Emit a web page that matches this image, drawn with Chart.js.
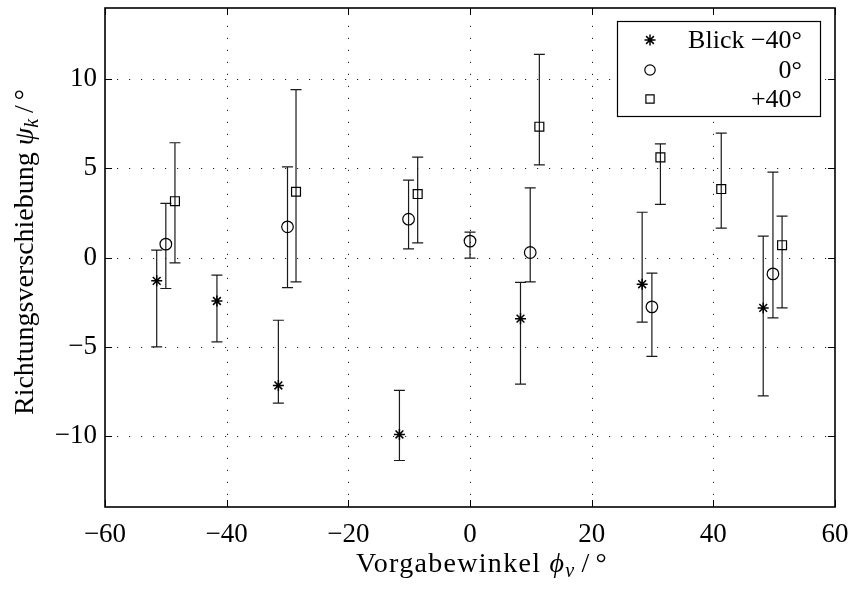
<!DOCTYPE html>
<html><head><meta charset="utf-8">
<script src="https://cdn.jsdelivr.net/npm/chart.js@4"></script>
<style>html,body{margin:0;padding:0;background:#fff;} canvas{display:block;}</style>
</head><body>
<canvas id="c" width="848" height="593"></canvas>
<script>
// ---- data ----
const seriesLabels = ['Blick \u221240\u00b0', '0\u00b0', '+40\u00b0'];
const starX  = [-51.5, -41.6, -31.5, -11.6, 8.3, 28.3, 48.2];
const starY  = [-1.31, -2.44, -7.18, -9.93, -3.43, -1.50, -2.83];
const starLo = [-5.02, -4.74, -8.17, -11.39, -7.10, -3.63, -7.77];
const starHi = [0.41, -0.99, -3.52, -7.46, -1.40, 2.54, 1.20];
const circX  = [-50.0, -30.0, -10.1, 0.0, 9.9, 29.9, 49.8];
const circY  = [0.75, 1.72, 2.15, 0.92, 0.28, -2.77, -0.92];
const circLo = [-1.74, -1.69, 0.48, -0.04, -1.37, -5.55, -3.39];
const circHi = [3.04, 5.09, 4.34, 1.42, 3.91, -0.88, 4.79];
const sqX    = [-48.5, -28.6, -8.6, 11.4, 31.3, 41.3, 51.3];
const sqY    = [3.16, 3.69, 3.56, 7.34, 5.62, 3.84, 0.69];
const sqLo   = [-0.30, -1.37, 0.82, 5.20, 2.98, 1.65, -2.83];
const sqHi   = [6.44, 9.42, 5.63, 11.40, 6.38, 6.98, 2.32];
const xTicks = [-60, -40, -20, 0, 20, 40, 60];
const yTicks = [-10, -5, 0, 5, 10];
const xRange = [-60, 60];
const yRange = [-14, 14];

const SERIF = '"Liberation Serif", "DejaVu Serif", serif';
const build = (xs, ys, lo, hi) => xs.map((v, i) => ({x: v, y: ys[i], lo: lo[i], hi: hi[i]}));
const fmt = v => String(v).replace('-', '\u2212');

const gridPlugin = {
  id: 'gridPlugin',
  beforeDatasetsDraw(chart) {
    const {ctx, chartArea: a, scales: {x, y}} = chart;
    ctx.save();
    ctx.strokeStyle = '#222';
    ctx.lineWidth = 1;
    ctx.setLineDash([1.2, 10.8]);
    xTicks.forEach(v => {
      const px = Math.round(x.getPixelForValue(v)) + 0.5;
      if (px < a.left + 2 || px > a.right - 2) return;
      ctx.beginPath(); ctx.moveTo(px, a.bottom); ctx.lineTo(px, a.top); ctx.stroke();
    });
    yTicks.forEach(v => {
      const py = Math.round(y.getPixelForValue(v)) + 0.5;
      if (py < a.top + 2 || py > a.bottom - 2) return;
      ctx.beginPath(); ctx.moveTo(a.left, py); ctx.lineTo(a.right, py); ctx.stroke();
    });
    ctx.restore();
  }
};

const errorBarPlugin = {
  id: 'errorBarPlugin',
  beforeDatasetsDraw(chart) {
    const {ctx, scales: {x, y}} = chart;
    ctx.save();
    ctx.strokeStyle = '#1a1a1a';
    ctx.lineWidth = 1.2;
    chart.data.datasets.forEach(ds => ds.data.forEach(p => {
      const px = x.getPixelForValue(p.x);
      const pl = y.getPixelForValue(p.lo);
      const ph = y.getPixelForValue(p.hi);
      ctx.beginPath();
      ctx.moveTo(px, pl); ctx.lineTo(px, ph);
      ctx.moveTo(px - 5.5, pl); ctx.lineTo(px + 5.5, pl);
      ctx.moveTo(px - 5.5, ph); ctx.lineTo(px + 5.5, ph);
      ctx.stroke();
    }));
    ctx.restore();
  }
};

const framePlugin = {
  id: 'framePlugin',
  afterDatasetsDraw(chart) {
    const {ctx, chartArea: a, scales: {x, y}} = chart;
    ctx.save();
    ctx.strokeStyle = '#000';
    ctx.lineWidth = 1;
    const tl = 7;
    ctx.beginPath();
    xTicks.forEach(v => {
      const px = Math.round(x.getPixelForValue(v)) + 0.5;
      ctx.moveTo(px, a.bottom); ctx.lineTo(px, a.bottom - tl);
      ctx.moveTo(px, a.top); ctx.lineTo(px, a.top + tl);
    });
    yTicks.forEach(v => {
      const py = Math.round(y.getPixelForValue(v)) + 0.5;
      ctx.moveTo(a.left, py); ctx.lineTo(a.left + tl, py);
      ctx.moveTo(a.right, py); ctx.lineTo(a.right - tl, py);
    });
    ctx.stroke();
    ctx.lineWidth = 1.6;
    ctx.strokeRect(a.left, a.top, a.right - a.left, a.bottom - a.top);
    ctx.restore();
  }
};

function drawPieces(ctx, pieces, startX, baseY) {
  let cx = startX;
  pieces.forEach(p => {
    ctx.font = p.font;
    ctx.fillText(p.t, cx, baseY + (p.dy || 0));
    cx += ctx.measureText(p.t).width + (p.sp || 0);
  });
  return cx;
}
function piecesWidth(ctx, pieces) {
  let w = 0;
  pieces.forEach(p => { ctx.font = p.font; w += ctx.measureText(p.t).width + (p.sp || 0); });
  return w;
}

const titlePlugin = {
  id: 'titlePlugin',
  afterDraw(chart) {
    const {ctx} = chart;
    ctx.save();
    ctx.fillStyle = '#000';
    ctx.textBaseline = 'alphabetic';
    ctx.textAlign = 'left';
    const fn = '28px ' + SERIF, fi = 'italic 28px ' + SERIF, fs = 'italic 20px ' + SERIF;
    const yPieces = [
      {t: 'Richtungsverschiebung ', font: fn},
      {t: '\u03c8', font: fi},
      {t: 'k', font: fs, dy: 5, sp: 6},
      {t: '/', font: fn, sp: 5},
      {t: '\u00b0', font: fn}
    ];
    ctx.save();
    const yw = piecesWidth(ctx, yPieces);
    ctx.translate(33, 252);
    ctx.rotate(-Math.PI / 2);
    drawPieces(ctx, yPieces, -yw / 2, 0);
    ctx.restore();

    if ('letterSpacing' in ctx) ctx.letterSpacing = '1.3px';
    const xPieces = [
      {t: 'Vorgabewinkel ', font: fn},
      {t: '\u03d5', font: fi},
      {t: 'v', font: fs, dy: 5, sp: 6},
      {t: '/', font: fn, sp: 5},
      {t: '\u00b0', font: fn}
    ];
    const xw = piecesWidth(ctx, xPieces);
    drawPieces(ctx, xPieces, 482 - xw / 2, 572);
    ctx.restore();
  }
};

const legendPlugin = {
  id: 'legendPlugin',
  afterDraw(chart) {
    const {ctx} = chart;
    const box = {l: 617.5, t: 21.5, r: 820.5, b: 116.5};
    ctx.save();
    ctx.fillStyle = '#fff';
    ctx.fillRect(box.l, box.t, box.r - box.l, box.b - box.t);
    ctx.strokeStyle = '#000';
    ctx.lineWidth = 1.2;
    ctx.strokeRect(box.l, box.t, box.r - box.l, box.b - box.t);
    const rows = [40, 70, 99];
    chart.data.datasets.forEach((ds, i) => {
      ctx.strokeStyle = '#000';
      ctx.fillStyle = 'rgba(0,0,0,0)';
      ctx.lineWidth = ds.borderWidth;
      Chart.helpers.drawPoint(ctx, {pointStyle: ds.pointStyle, radius: ds.legendRadius, borderWidth: ds.borderWidth, rotation: 0}, 650, rows[i]);
      ctx.fillStyle = '#000';
      ctx.font = '26px ' + SERIF;
      ctx.textAlign = 'right';
      ctx.textBaseline = 'middle';
      ctx.fillText(ds.label, 802, rows[i] + 1);
    });
    ctx.restore();
  }
};

new Chart(document.getElementById('c'), {
  type: 'scatter',
  data: {
    datasets: [
      {label: seriesLabels[0], data: build(starX, starY, starLo, starHi), pointStyle: 'star',
       pointRadius: 5.5, legendRadius: 5.5, borderColor: '#000', backgroundColor: '#000', borderWidth: 1.5},
      {label: seriesLabels[1], data: build(circX, circY, circLo, circHi), pointStyle: 'circle',
       pointRadius: 5.8, legendRadius: 5.2, borderColor: '#000', backgroundColor: 'rgba(0,0,0,0)', borderWidth: 1.2},
      {label: seriesLabels[2], data: build(sqX, sqY, sqLo, sqHi), pointStyle: 'rect',
       pointRadius: 6.3, legendRadius: 5.8, borderColor: '#000', backgroundColor: 'rgba(0,0,0,0)', borderWidth: 1.2}
    ]
  },
  options: {
    responsive: false,
    animation: false,
    events: [],
    layout: {padding: {left: 0, right: 13, top: 8, bottom: 0}},
    plugins: {legend: {display: false}, tooltip: {enabled: false}, title: {display: false}},
    scales: {
      x: {
        type: 'linear', min: xRange[0], max: xRange[1],
        grid: {display: false, drawTicks: false}, border: {display: false},
        afterBuildTicks: s => { s.ticks = xTicks.map(v => ({value: v})); },
        afterFit: s => { s.height = 86; s.paddingLeft = 0; s.paddingRight = 0; },
        ticks: {color: '#000', padding: 12, maxRotation: 0, autoSkip: false,
                font: {family: SERIF, size: 27}, callback: v => fmt(v)}
      },
      y: {
        type: 'linear', min: yRange[0], max: yRange[1],
        grid: {display: false, drawTicks: false}, border: {display: false},
        afterBuildTicks: s => { s.ticks = yTicks.map(v => ({value: v})); },
        afterFit: s => { s.width = 105; s.paddingTop = 0; s.paddingBottom = 0; },
        ticks: {color: '#000', padding: 8, autoSkip: false,
                font: {family: SERIF, size: 27}, callback: v => fmt(v)}
      }
    }
  },
  plugins: [gridPlugin, errorBarPlugin, framePlugin, titlePlugin, legendPlugin]
});
</script>
</body></html>
